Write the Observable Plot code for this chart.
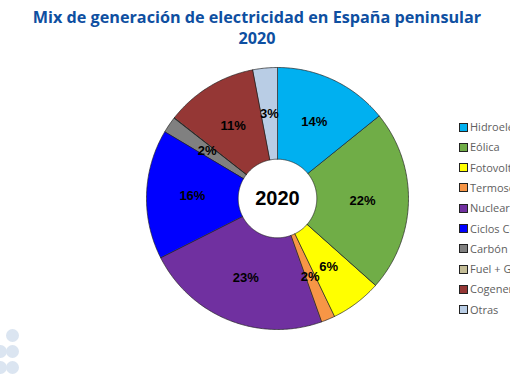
<!DOCTYPE html>
<html><head><meta charset="utf-8">
<script src="https://cdn.jsdelivr.net/npm/d3@7"></script>
<script src="https://cdn.jsdelivr.net/npm/@observablehq/plot@0.6"></script>
<style>
html,body{margin:0;padding:0;width:510px;height:382px;overflow:hidden;background:#fff;}
#wrap{position:relative;width:510px;height:382px;overflow:hidden;}
#title{position:absolute;left:0;top:7px;width:514px;text-align:center;font-family:"Open Sans";font-weight:700;font-size:16.2px;line-height:21px;color:#0e4fa1;}
#chart{position:absolute;left:0;top:56px;}
.lg{position:absolute;left:459px;white-space:nowrap;font-family:"Open Sans";font-size:11px;color:#606060;line-height:12px;}
.lg span.sw{display:inline-block;width:7px;height:7px;border:0.8px solid #222;margin-right:2px;vertical-align:-0.5px;}
.deco{position:absolute;width:13px;height:13px;border-radius:50%;background:#dbe5f1;}
</style></head>
<body><div id="wrap">
<div id="title"></div>
<div id="chart"></div>
</div>
<script>
const titleLines = ["Mix de generación de electricidad en España peninsular", "2020"];
const categories = ["Hidroeléctrica","Eólica","Fotovoltaica","Termosolar","Nuclear","Ciclos Combinados","Carbón","Fuel + Gas","Cogeneración","Otras"];
const shares = [14.2, 22.4, 6.3, 1.7, 23.0, 16.0, 2.0, 0.05, 11.4, 3.0];
const colors = ["#00b0f0","#70ad47","#ffff00","#f79646","#7030a0","#0000ff","#808080","#c4bd97","#953735","#b9cde5"];
const centerLabel = "2020";

const wrap = document.getElementById("wrap");
document.getElementById("title").innerHTML = titleLines.join("<br>");

const data = categories.map((name, i) => ({name, value: shares[i]}));
const arcs = d3.pie().sort(null).value(d => d.value).startAngle(0).endAngle(2 * Math.PI)(data);
const R0 = 0.3, R1 = 1, RL = 0.65;
const points = [];
for (const a of arcs) {
  const n = Math.max(2, Math.ceil((a.endAngle - a.startAngle) / 0.01));
  for (let k = 0; k <= n; k++) {
    const t = a.startAngle + (a.endAngle - a.startAngle) * k / n;
    points.push({name: a.data.name, x: R1 * Math.sin(t), y: R1 * Math.cos(t)});
  }
  for (let k = n; k >= 0; k--) {
    const t = a.startAngle + (a.endAngle - a.startAngle) * k / n;
    points.push({name: a.data.name, x: R0 * Math.sin(t), y: R0 * Math.cos(t)});
  }
}
const labels = arcs.filter(a => Math.round(a.data.value) >= 1).map(a => {
  const m = (a.startAngle + a.endAngle) / 2;
  return {x: RL * Math.sin(m), y: RL * Math.cos(m), text: Math.round(a.data.value) + "%"};
});

const chart = Plot.plot({
  width: 510, height: 326, margin: 0,
  x: {domain: [-1, 1], range: [146, 408], axis: null},
  y: {domain: [-1, 1], range: [273, 11], axis: null},
  color: {type: "ordinal", domain: categories, range: colors},
  marks: [
    Plot.line(points, {x: "x", y: "y", z: "name", fill: "name", stroke: "#222", strokeWidth: 0.7, curve: "linear-closed"}),
    Plot.text(labels, {x: "x", y: "y", text: "text", fontWeight: "bold", fontSize: 13, fontFamily: "Liberation Sans", fill: "#000"}),
    Plot.text([centerLabel], {x: () => 0, y: () => 0, text: d => d, fontWeight: "bold", fontSize: 20, fontFamily: "Liberation Sans", fill: "#000"})
  ]
});
document.getElementById("chart").appendChild(chart);

categories.forEach((c, i) => {
  const d = document.createElement("div");
  d.className = "lg";
  d.style.top = (127 + i * 20.3 - 6) + "px";
  d.innerHTML = `<span class="sw" style="background:${colors[i]}"></span>${c}`;
  wrap.appendChild(d);
});
[[6,329],[-6,345],[6,345],[-6,361],[6,361]].forEach(([l,t]) => {
  const d = document.createElement("div");
  d.className = "deco"; d.style.left = l + "px"; d.style.top = t + "px";
  wrap.appendChild(d);
});
</script>
</body></html>
